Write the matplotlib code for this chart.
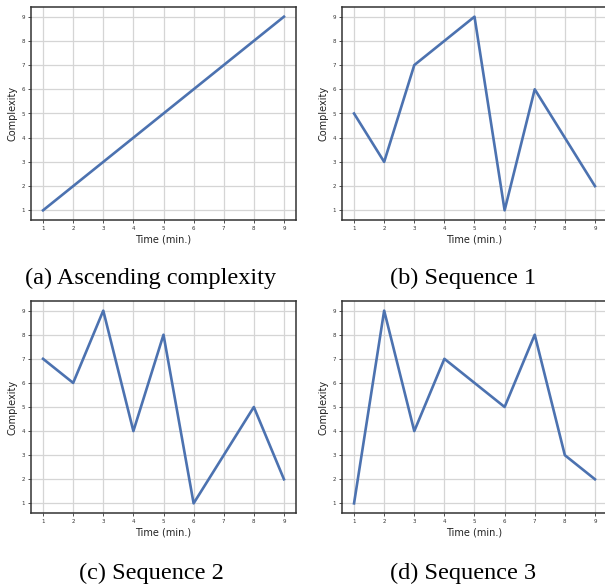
import matplotlib
matplotlib.use('Agg')
import matplotlib.pyplot as plt

# time steps and complexity for each sequence
time_min = [1, 2, 3, 4, 5, 6, 7, 8, 9]
ascending = [1, 2, 3, 4, 5, 6, 7, 8, 9]
sequence_1 = [5, 3, 7, 8, 9, 1, 6, 4, 2]
sequence_2 = [7, 6, 9, 4, 8, 1, 3, 5, 2]
sequence_3 = [1, 9, 4, 7, 6, 5, 8, 3, 2]

captions = ['(a) Ascending complexity', '(b) Sequence 1',
            '(c) Sequence 2', '(d) Sequence 3']
series = [ascending, sequence_1, sequence_2, sequence_3]

W, H = 605, 586
fig = plt.figure(figsize=(W / 100, H / 100), dpi=100)

# pixel boxes (left, top, width, height) of each panel
boxes = [(31, 7, 265, 213), (342, 7, 265, 213),
         (31, 301, 265, 212), (342, 301, 265, 212)]
caption_pos = [(151, 278), (463, 278), (151, 573), (463, 573)]

for values, cap, (l, t, w, h), (cx, cy) in zip(series, captions, boxes, caption_pos):
    ax = fig.add_axes([l / W, 1 - (t + h) / H, w / W, h / H])
    ax.plot(time_min, values, color='#4C72B0', linewidth=1.9)
    ax.set_xlim(0.6, 9.4)
    ax.set_ylim(0.6, 9.4)
    ax.set_xticks(time_min)
    ax.set_yticks(range(1, 10))
    ax.grid(True, color='#d5d5d5', linewidth=0.9)
    ax.set_axisbelow(True)
    for s in ax.spines.values():
        s.set_color('#333333')
        s.set_linewidth(1.1)
    ax.tick_params(labelsize=4, length=2.5, width=0.6, color='#333333',
                   labelcolor='#333333', pad=2)
    ax.set_xlabel('Time (min.)', fontsize=7, labelpad=2, color='#222222')
    ax.set_ylabel('Complexity', fontsize=7, labelpad=3, color='#222222')
    fig.text(cx / W, 1 - cy / H, cap, ha='center', va='center',
             fontsize=17.5, family='Liberation Serif')

fig.savefig('out.png', dpi=100)
